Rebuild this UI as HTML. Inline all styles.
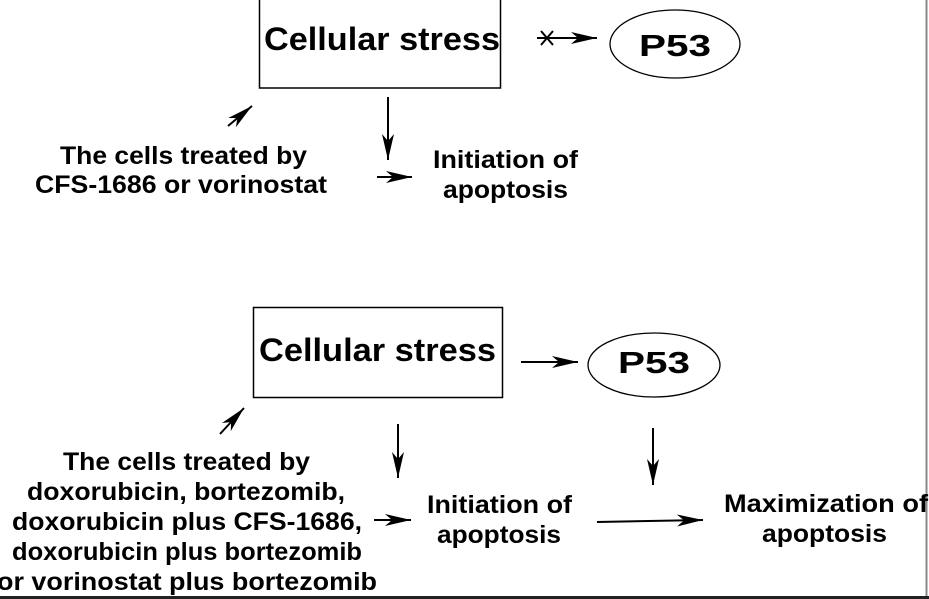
<!DOCTYPE html>
<html><head><meta charset="utf-8"><style>
html,body{margin:0;padding:0;background:#fff;}
svg{display:block;}
text{font-family:"Liberation Sans",Arial,sans-serif;font-weight:bold;fill:#000;}
</style></head><body>
<svg width="929" height="599" viewBox="0 0 929 599" xmlns="http://www.w3.org/2000/svg">
<defs>
<marker id="a" viewBox="0 0 26 12" refX="26" refY="6" markerWidth="26" markerHeight="12" markerUnits="userSpaceOnUse" orient="auto">
<path d="M0,0 L26,6 L0,12 L7,6 Z" fill="#000"/></marker>
</defs>
<rect width="929" height="599" fill="#fff"/>
<line x1="926.5" y1="0" x2="926.5" y2="596" stroke="#888" stroke-width="2"/>
<rect x="0" y="596" width="929" height="3" fill="#222"/>

<!-- top -->
<rect x="259.5" y="-2" width="241" height="90" fill="none" stroke="#000" stroke-width="1.5"/>
<text x="264" y="50" font-size="32" textLength="236" lengthAdjust="spacingAndGlyphs">Cellular stress</text>
<ellipse cx="675" cy="44" rx="65" ry="34" fill="none" stroke="#000" stroke-width="1.3"/>
<text x="639" y="56" font-size="31" textLength="72" lengthAdjust="spacingAndGlyphs">P53</text>
<line x1="537" y1="38" x2="597" y2="38" stroke="#000" stroke-width="2" marker-end="url(#a)"/>
<path d="M541,31 L553,45 M553,31 L541,45" stroke="#000" stroke-width="2"/>
<line x1="228" y1="126" x2="252" y2="106" stroke="#000" stroke-width="2" marker-end="url(#a)"/>
<line x1="388" y1="97" x2="388" y2="160" stroke="#000" stroke-width="2" marker-end="url(#a)"/>
<line x1="377" y1="177" x2="412" y2="177" stroke="#000" stroke-width="2" marker-end="url(#a)"/>
<text x="60" y="164" font-size="25" textLength="247" lengthAdjust="spacingAndGlyphs">The cells treated by</text>
<text x="35" y="193" font-size="25" textLength="292" lengthAdjust="spacingAndGlyphs">CFS-1686 or vorinostat</text>
<text x="433" y="168" font-size="25" textLength="145" lengthAdjust="spacingAndGlyphs">Initiation of</text>
<text x="443" y="198" font-size="25" textLength="125" lengthAdjust="spacingAndGlyphs">apoptosis</text>

<!-- bottom -->
<rect x="253.5" y="307.5" width="249" height="90" fill="none" stroke="#000" stroke-width="1.5"/>
<text x="259" y="361" font-size="32" textLength="237" lengthAdjust="spacingAndGlyphs">Cellular stress</text>
<ellipse cx="654" cy="365" rx="66" ry="32" fill="none" stroke="#000" stroke-width="1.3"/>
<text x="618" y="373" font-size="31" textLength="72" lengthAdjust="spacingAndGlyphs">P53</text>
<line x1="521" y1="362" x2="578" y2="362" stroke="#000" stroke-width="2" marker-end="url(#a)"/>
<line x1="220" y1="434" x2="244" y2="408" stroke="#000" stroke-width="2" marker-end="url(#a)"/>
<line x1="398" y1="424" x2="398" y2="478" stroke="#000" stroke-width="2" marker-end="url(#a)"/>
<line x1="653" y1="428" x2="653" y2="485" stroke="#000" stroke-width="2" marker-end="url(#a)"/>
<line x1="374" y1="520" x2="411" y2="520" stroke="#000" stroke-width="2" marker-end="url(#a)"/>
<line x1="597" y1="522" x2="703" y2="520" stroke="#000" stroke-width="2" marker-end="url(#a)"/>
<text x="63" y="470" font-size="25" textLength="247" lengthAdjust="spacingAndGlyphs">The cells treated by</text>
<text x="27" y="500" font-size="25" textLength="318" lengthAdjust="spacingAndGlyphs">doxorubicin, bortezomib,</text>
<text x="12" y="530" font-size="25" textLength="350" lengthAdjust="spacingAndGlyphs">doxorubicin plus CFS-1686,</text>
<text x="12" y="560" font-size="25" textLength="350" lengthAdjust="spacingAndGlyphs">doxorubicin plus bortezomib</text>
<text x="-3" y="590" font-size="25" textLength="380" lengthAdjust="spacingAndGlyphs">or vorinostat plus bortezomib</text>
<text x="427" y="513" font-size="25" textLength="145" lengthAdjust="spacingAndGlyphs">Initiation of</text>
<text x="437" y="543" font-size="25" textLength="124" lengthAdjust="spacingAndGlyphs">apoptosis</text>
<text x="724" y="512" font-size="25" textLength="204" lengthAdjust="spacingAndGlyphs">Maximization of</text>
<text x="762" y="542" font-size="25" textLength="125" lengthAdjust="spacingAndGlyphs">apoptosis</text>
</svg>
</body></html>
